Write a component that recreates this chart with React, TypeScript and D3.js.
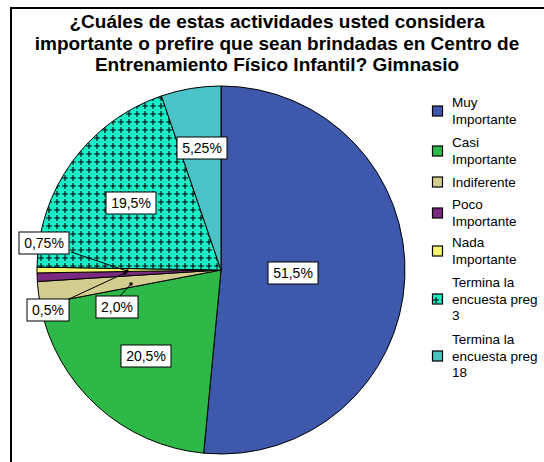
import React from 'react';
import * as d3 from 'd3';

const categories = [
  ['Muy', 'Importante'],
  ['Casi', 'Importante'],
  ['Indiferente'],
  ['Poco', 'Importante'],
  ['Nada', 'Importante'],
  ['Termina la', 'encuesta preg', '3'],
  ['Termina la', 'encuesta preg', '18'],
];
const values = [51.5, 20.5, 2.0, 0.75, 0.5, 19.5, 5.25];
const valueLabels = ['51,5%', '20,5%', '2,0%', '0,75%', '0,5%', '19,5%', '5,25%'];
const colors = ['#3e58ac', '#2eb848', '#d3cd90', '#7a2a80', '#f8f46e', 'url(#plus)', '#4ac3c6'];
const titleLines = [
  '¿Cuáles de estas actividades usted considera',
  'importante o prefire que sean brindadas en Centro de',
  'Entrenamiento Físico Infantil? Gimnasio',
];

// label box centres (SPSS places them by hand), and leader targets for small slices
const labelPos = [
  [293, 273], [146, 356], [117, 307], [44, 243], [48, 310], [131, 203], [202, 148],
];
const leaders: Record<number, number[][]> = {
  2: [[120, 296], [131, 284]],
  3: [[71, 252], [127, 271]],
  4: [[69, 299], [125, 273]],
};

const W = 544, H = 462;
const cx = 221, cy = 270, r = 184;

export default function App() {
  const pie = d3.pie<number>().sort(null).value(d => d)(values);
  const arc = d3.arc<d3.PieArcDatum<number>>().innerRadius(0).outerRadius(r);

  const legendY = [111, 151, 182, 213, 251, 299, 356];
  const lineH = 16.5;

  return (
    <svg width={W} height={H} style={{ position: 'absolute', left: 0, top: 0, background: '#fff' }}
      fontFamily="'Liberation Sans', Arial, sans-serif">
      <defs>
        <pattern id="plus" width="8" height="8" patternUnits="userSpaceOnUse">
          <rect width="8" height="8" fill="#14f0c8" />
          <path d="M4,1V7M1,4H7" stroke="#000" strokeWidth="1.1" />
        </pattern>
      </defs>
      <path d="M11,470V8H552" fill="none" stroke="#000" strokeWidth="2" />
      {titleLines.map((t, i) => (
        <text key={i} x={277} y={28 + i * 21.5} textAnchor="middle" fontSize="19" fontWeight="bold">{t}</text>
      ))}
      <g transform={`translate(${cx},${cy})`}>
        {pie.map((d, i) => (
          <path key={i} d={arc(d) || ''} fill={colors[i]} stroke="#000" strokeWidth="1" />
        ))}
      </g>
      {Object.entries(leaders).map(([k, pts]) => (
        <g key={k}>
          <line x1={pts[0][0]} y1={pts[0][1]} x2={pts[1][0]} y2={pts[1][1]} stroke="#000" strokeWidth="1" />
          <rect x={pts[1][0] - 1.5} y={pts[1][1] - 1.5} width="3" height="3" fill="#000" />
        </g>
      ))}
      {valueLabels.map((t, i) => {
        const [x, y] = labelPos[i];
        const w = t.length * 8 + 10;
        return (
          <g key={i}>
            <rect x={x - w / 2} y={y - 11} width={w} height={22} fill="#fff" stroke="#000" strokeWidth="1" />
            <text x={x} y={y + 5} textAnchor="middle" fontSize="14">{t}</text>
          </g>
        );
      })}
      {categories.map((lines, i) => {
        const y0 = legendY[i] - ((lines.length - 1) * lineH) / 2;
        return (
          <g key={i}>
            <rect x={432.5} y={legendY[i] - 5} width={10} height={10} fill={colors[i]} stroke="#000" strokeWidth="1.2" />
            {lines.map((l, j) => (
              <text key={j} x={452} y={y0 + j * lineH + 4.5} fontSize="13.5">{l}</text>
            ))}
          </g>
        );
      })}
    </svg>
  );
}
